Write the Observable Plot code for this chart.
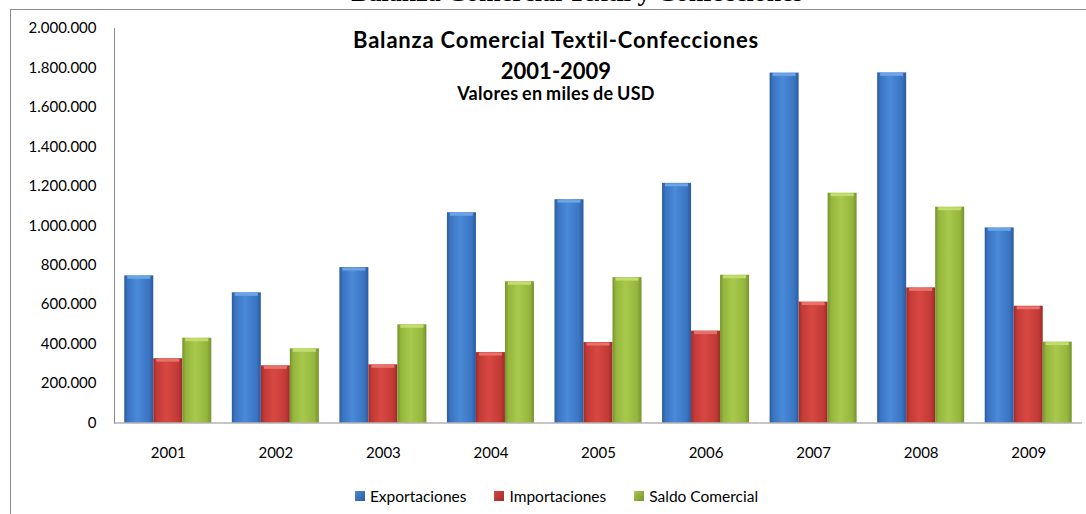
<!DOCTYPE html>
<html>
<head>
<meta charset="utf-8">
<script src="https://cdn.jsdelivr.net/npm/d3@7"></script>
<script src="https://cdn.jsdelivr.net/npm/@observablehq/plot@0.6"></script>
<style>
  html, body { margin: 0; padding: 0; background: #fff; }
  #wrap { position: relative; width: 1086px; height: 514px; overflow: hidden; background: #fff; font-family: Lato, sans-serif; color: #000; }
  #cut { position: absolute; left: 34px; top: -20.5px; width: 1086px; text-align: center; font: bold 26px/26px "Liberation Serif", serif; white-space: nowrap; }
  #box { position: absolute; left: 10px; top: 9px; width: 2000px; height: 1000px; border-left: 1px solid #8c8c8c; border-top: 1px solid #8c8c8c; }
  #chart { position: absolute; left: 0; top: 0; }
  .t { position: absolute; left: 256px; width: 600px; text-align: center; font-weight: bold; white-space: nowrap; }
  #t1 { top: 26.5px; font-size: 22px; line-height: 26.4px; letter-spacing: 0.8px; }
  #t2 { top: 58.4px; font-size: 22px; line-height: 26.4px; }
  #t3 { top: 83px; font-size: 18px; line-height: 21.6px; letter-spacing: 0.3px; word-spacing: -1px; }
  #legend { position: absolute; left: 0; width: 1113px; top: 486px; height: 20px; display: flex; justify-content: center; align-items: center; font-size: 15.5px; }
  .li { display: flex; align-items: center; margin: 0 14px; }
  .sw { width: 10px; height: 10px; margin-right: 5px; }
</style>
</head>
<body>
<div id="wrap">
  <div id="cut">Balanza Comercial Textil y Confecciones</div>
  <div id="box"></div>
  <div id="chart"></div>
  <div class="t" id="t1">Balanza Comercial Textil-Confecciones</div>
  <div class="t" id="t2">2001-2009</div>
  <div class="t" id="t3">Valores en miles de USD</div>
  <div id="legend"></div>
</div>
<script>
const years = ["2001", "2002", "2003", "2004", "2005", "2006", "2007", "2008", "2009"];
const seriesNames = ["Exportaciones", "Importaciones", "Saldo Comercial"];
const exportaciones = [746000, 660000, 788000, 1066000, 1132000, 1215000, 1774000, 1775000, 989000];
const importaciones = [326000, 290000, 295000, 357000, 408000, 466000, 613000, 685000, 592000];
const saldoComercial = [430000, 376000, 498000, 716000, 737000, 749000, 1165000, 1094000, 410000];
const yTicks = [0, 200000, 400000, 600000, 800000, 1000000, 1200000, 1400000, 1600000, 1800000, 2000000];

const seriesValues = [exportaciones, importaciones, saldoComercial];
const gradIds = ["gExp", "gImp", "gSal"];
const gradStops = [
  ["#2b5c9c", "#3a74c2", "#4a8ad8", "#3a74c2", "#2b5c9c"],
  ["#9c2d2a", "#c23a36", "#d84842", "#c23a36", "#9c2d2a"],
  ["#76932c", "#94b63c", "#a8c94c", "#94b63c", "#76932c"]
];
const bevelColors = ["#6aa3e6", "#e8716c", "#c3dc6e"];

const data = years.flatMap((year, i) =>
  seriesNames.map((serie, k) => ({year, serie, value: seriesValues[k][i]}))
);

const locale = d3.formatLocale({decimal: ",", thousands: ".", grouping: [3], currency: ["", ""]});
const fmt = locale.format(",d");

const chart = Plot.plot({
  width: 1086,
  height: 470,
  marginLeft: 114,
  marginRight: 4,
  marginTop: 28,
  marginBottom: 47.5,
  style: {fontFamily: "Lato, sans-serif", fontSize: "15px", color: "#000", background: "transparent", overflow: "visible"},
  fx: {domain: years, padding: 0, round: false, label: null, axis: "bottom", tickSize: 0, tickPadding: 24},
  x: {domain: seriesNames, paddingInner: 0, paddingOuter: 0.354, round: false, axis: null},
  y: {domain: [0, 2000000], ticks: yTicks, tickFormat: fmt, tickSize: 0, tickPadding: 18, label: null},
  color: {domain: seriesNames, range: gradIds.map(id => `url(#${id})`)},
  marks: [
    Plot.barY(data, {fx: "year", x: "serie", y: "value", fill: "serie"}),
    ...seriesNames.map((name, k) =>
      Plot.tickY(data.filter(d => d.serie === name), {fx: "year", x: "serie", y: "value", stroke: bevelColors[k], strokeWidth: 3, dy: 1.5, insetLeft: 3, insetRight: 3})
    ),
    Plot.ruleY([0], {stroke: "#8c8c8c"}),
    Plot.frame({anchor: "left", stroke: "#8c8c8c", facetAnchor: "left"})
  ]
});

const svg = d3.select(chart.tagName.toLowerCase() === "svg" ? chart : chart.querySelector("svg"));
const defs = svg.insert("defs", ":first-child");
gradIds.forEach((id, k) => {
  const g = defs.append("linearGradient").attr("id", id).attr("x1", "0").attr("x2", "1").attr("y1", "0").attr("y2", "0");
  [0, 0.12, 0.45, 0.85, 1].forEach((o, j) => g.append("stop").attr("offset", o).attr("stop-color", gradStops[k][j]));
});

document.getElementById("chart").appendChild(chart);

const legend = d3.select("#legend");
seriesNames.forEach((name, k) => {
  const item = legend.append("div").attr("class", "li");
  item.append("div").attr("class", "sw").style("background", `linear-gradient(135deg, ${gradStops[k][2]}, ${gradStops[k][0]})`);
  item.append("span").text(name);
});
</script>
</body>
</html>
